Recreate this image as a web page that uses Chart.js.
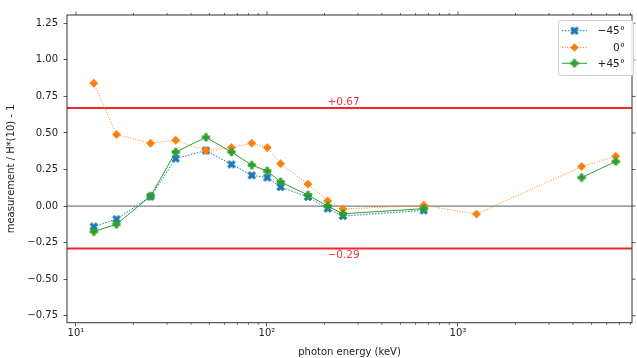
<!DOCTYPE html>
<html><head><meta charset="utf-8">
<script src="https://cdn.jsdelivr.net/npm/chart.js@4/dist/chart.umd.min.js"></script>
<style>html,body{margin:0;padding:0;background:#fff;}#wrap{width:637px;height:358px;}</style>
</head><body><div id="wrap"><canvas id="c" width="637" height="358"></canvas></div>
<script>
// ---- data ----
const energies = [12.4, 16.3, 24.6, 33.3, 47.9, 65.2, 83.3, 100.4, 118, 164, 208, 250, 662, 1250, 4440, 6700];
const minus45 = [-0.14, -0.09, 0.065, 0.325, 0.38, 0.285, 0.21, 0.195, 0.13, 0.062, -0.017, -0.068, -0.03, null, null, null];
const zero0   = [0.84, 0.49, 0.43, 0.45, 0.38, 0.40, 0.43, 0.40, 0.29, 0.15, 0.035, -0.02, 0.005, -0.055, 0.27, 0.34];
const plus45  = [-0.175, -0.125, 0.068, 0.37, 0.47, 0.37, 0.28, 0.24, 0.165, 0.075, 0.0, -0.053, -0.018, null, 0.195, 0.305];
const seriesLabels = ['\u221245\u00b0', '0\u00b0', '+45\u00b0'];
const limits = [0.67, -0.29];
const limitLabels = ['+0.67', '\u22120.29'];
const yTicks = [-0.75, -0.5, -0.25, 0, 0.25, 0.5, 0.75, 1.0, 1.25];
const xMajorTicks = [10, 100, 1000];
const xTickLabels = ['10\u00b9', '10\u00b2', '10\u00b3'];
const xMinorTicks = [20,30,40,50,60,70,80,90,200,300,400,500,600,700,800,900,2000,3000,4000,5000,6000,7000,8000];

const FONT = 'DejaVu Sans';
const TXT = '#222';
const BLUE = '#1f77b4', ORANGE = '#ff7f0e', GREEN = '#2ca02c';

function polyCanvas(color, pts, size) {
  const c = document.createElement('canvas');
  c.width = size; c.height = size;
  const g = c.getContext('2d');
  g.translate(size / 2, size / 2);
  g.beginPath();
  pts.forEach((p, i) => i ? g.lineTo(p[0], p[1]) : g.moveTo(p[0], p[1]));
  g.closePath();
  g.fillStyle = color; g.fill();
  g.strokeStyle = color; g.lineWidth = 0.6; g.stroke();
  return c;
}
function plusPts(L, w, rot) {
  const base = [[-w,-L],[w,-L],[w,-w],[L,-w],[L,w],[w,w],[w,L],[-w,L],[-w,w],[-L,w],[-L,-w],[-w,-w]];
  const c = Math.cos(rot), s = Math.sin(rot);
  return base.map(([x, y]) => [x * c - y * s, x * s + y * c]);
}
const xMarker = polyCanvas(BLUE, plusPts(4.3, 1.4, Math.PI / 4), 10);
const pMarker = polyCanvas(GREEN, plusPts(3.8, 1.4, 0), 10);

function pts(vals) { return energies.map((e, i) => ({x: e, y: vals[i]})); }

const frame = {
  id: 'frame',
  beforeDatasetsDraw(chart) {
    const {ctx, chartArea: a, scales: {x, y}} = chart;
    ctx.save();
    const y0 = y.getPixelForValue(0);
    ctx.strokeStyle = '#7f7f7f'; ctx.lineWidth = 1.2;
    ctx.beginPath(); ctx.moveTo(a.left, y0); ctx.lineTo(a.right, y0); ctx.stroke();
    ctx.strokeStyle = '#f02828'; ctx.lineWidth = 2;
    limits.forEach(v => {
      const py = y.getPixelForValue(v);
      ctx.beginPath(); ctx.moveTo(a.left, py); ctx.lineTo(a.right, py); ctx.stroke();
    });
    ctx.fillStyle = '#f03838'; ctx.font = '10.5px "' + FONT + '"'; ctx.textAlign = 'left';
    const lx = a.left + (a.right - a.left) * 0.461;
    limits.forEach((v, i) => {
      const py = y.getPixelForValue(v);
      ctx.textBaseline = 'alphabetic';
      if (v > 0) ctx.fillText(limitLabels[i], lx, py - 3);
      else ctx.fillText(limitLabels[i], lx, py + 10);
    });
    ctx.restore();
  },
  afterDraw(chart) {
    const {ctx, chartArea: a, scales: {x, y}} = chart;
    ctx.save();
    ctx.strokeStyle = '#333'; ctx.lineWidth = 1;
    ctx.strokeRect(a.left, a.top, a.right - a.left, a.bottom - a.top);
    ctx.lineWidth = 0.8; ctx.strokeStyle = '#333';
    ctx.beginPath();
    xMinorTicks.forEach(v => {
      const px = x.getPixelForValue(v);
      ctx.moveTo(px, a.bottom); ctx.lineTo(px, a.bottom + 2);
      ctx.moveTo(px, a.top); ctx.lineTo(px, a.top - 2);
    });
    xMajorTicks.forEach(v => {
      const px = x.getPixelForValue(v);
      ctx.moveTo(px, a.top); ctx.lineTo(px, a.top - 3.5);
    });
    yTicks.forEach(v => {
      const py = y.getPixelForValue(v);
      ctx.moveTo(a.right, py); ctx.lineTo(a.right + 3.5, py);
    });
    ctx.stroke();
    // legend
    const bx = 558, by = 20, bw = 75, bh = 55;
    ctx.fillStyle = 'rgba(255,255,255,0.85)'; ctx.strokeStyle = '#d0d0d0'; ctx.lineWidth = 1;
    ctx.beginPath(); ctx.roundRect(bx + 0.5, by + 0.5, bw, bh, 2.5); ctx.fill(); ctx.stroke();
    const rows = [30.7, 47.5, 63.3];
    chart.data.datasets.forEach((ds, i) => {
      const ry = rows[i];
      ctx.strokeStyle = ds.borderColor; ctx.lineWidth = ds.borderWidth;
      ctx.setLineDash(ds.borderDash || []);
      ctx.beginPath(); ctx.moveTo(562, ry); ctx.lineTo(587, ry); ctx.stroke();
      ctx.setLineDash([]);
      const mx = 574.5;
      if (ds.pointStyle === 'rectRot') {
        const r = ds.pointRadius;
        ctx.fillStyle = ds.pointBackgroundColor;
        ctx.beginPath(); ctx.moveTo(mx, ry - r); ctx.lineTo(mx + r, ry); ctx.lineTo(mx, ry + r); ctx.lineTo(mx - r, ry); ctx.closePath(); ctx.fill();
      } else {
        const im = ds.pointStyle;
        ctx.drawImage(im, mx - im.width / 2, ry - im.height / 2);
      }
      ctx.fillStyle = TXT; ctx.font = '10.5px "' + FONT + '"';
      ctx.textAlign = 'right'; ctx.textBaseline = 'middle';
      ctx.fillText(ds.label, 625, ry + 0.5);
    });
    ctx.restore();
  }
};

function fmtY(v) {
  const s = Math.abs(v).toFixed(2);
  return v < -1e-9 ? '\u2212' + s : s;
}

new Chart(document.getElementById('c'), {
  type: 'line',
  data: {
    datasets: [
      { label: seriesLabels[0], data: pts(minus45), borderColor: BLUE, backgroundColor: BLUE,
        borderWidth: 1, borderDash: [1.5, 1.5], pointStyle: xMarker, pointRadius: 4,
        pointBackgroundColor: BLUE, pointBorderColor: BLUE, order: 2, spanGaps: false },
      { label: seriesLabels[1], data: pts(zero0), borderColor: ORANGE, backgroundColor: ORANGE,
        borderWidth: 1, borderDash: [1, 1.6], pointStyle: 'rectRot', pointRadius: 4.2,
        pointBackgroundColor: ORANGE, pointBorderColor: ORANGE, pointBorderWidth: 0.5, order: 1, spanGaps: false },
      { label: seriesLabels[2], data: pts(plus45), borderColor: GREEN, backgroundColor: GREEN,
        borderWidth: 1, pointStyle: pMarker, pointRadius: 4,
        pointBackgroundColor: GREEN, pointBorderColor: GREEN, order: 0, spanGaps: false }
    ]
  },
  options: {
    responsive: false, animation: false, devicePixelRatio: 1,
    layout: { padding: { top: 15, right: 2, left: 0, bottom: 0 } },
    plugins: { legend: { display: false }, tooltip: { enabled: false } },
    elements: { line: { tension: 0 } },
    scales: {
      x: {
        type: 'logarithmic', min: 8.98, max: 8150,
        afterBuildTicks: a => { a.ticks = xMajorTicks.map(v => ({ value: v, major: true })); },
        afterFit: a => { a.height = 35.3; },
        ticks: {
          callback: v => { const i = xMajorTicks.indexOf(v); return i >= 0 ? xTickLabels[i] : ''; },
          font: { family: FONT, size: 10 }, color: TXT, padding: 1, maxRotation: 0, autoSkip: false
        },
        grid: { drawOnChartArea: false, drawTicks: true, tickLength: 3.5, tickColor: '#333', tickWidth: 0.8 },
        border: { display: false },
        title: { display: true, text: 'photon energy (keV)', font: { family: FONT, size: 10 }, color: TXT, padding: { top: 0, bottom: 0 } }
      },
      y: {
        min: -0.798, max: 1.307,
        afterBuildTicks: a => { a.ticks = yTicks.map(v => ({ value: v })); },
        afterFit: a => { a.width = 67; },
        ticks: { callback: v => fmtY(v), font: { family: FONT, size: 10 }, color: TXT, padding: 5.5, autoSkip: false },
        grid: { drawOnChartArea: false, drawTicks: true, tickLength: 3.5, tickColor: '#333', tickWidth: 0.8 },
        border: { display: false },
        title: { display: true, text: 'measurement / H*(10) - 1', font: { family: FONT, size: 10 }, color: TXT, padding: { top: 5, bottom: 0 } }
      }
    }
  },
  plugins: [frame]
});
</script></body></html>
